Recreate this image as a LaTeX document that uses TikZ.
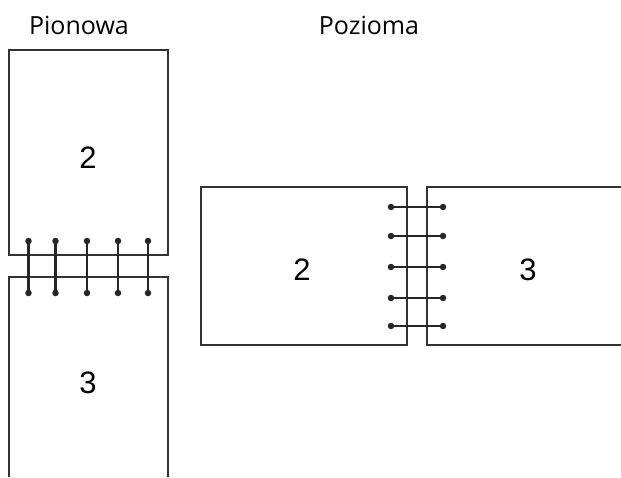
\documentclass[tikz,border=0pt]{standalone}
\usepackage{fontspec}
\setmainfont{Open Sans}
\newfontfamily\digitfont{Liberation Sans}
\begin{document}
\begin{tikzpicture}[x=1pt,y=-1pt,
  page/.style={draw=black!80,line width=1.9pt},
  stitch/.style={draw=black!85,line width=2.3pt},
  dot/.style={circle,fill=black!85,inner sep=0pt,minimum size=6.5pt},
  label/.style={font=\fontsize{25}{28}\selectfont,inner sep=0pt},
  num/.style={font=\digitfont\fontsize{31}{34}\selectfont,inner sep=0pt}]
\useasboundingbox (0,0) rectangle (621,477);
% labels
\node[label] (lp) at (79,25) {Pionowa};
\node[label] (ll) at (369,25) {Pozioma};
% portrait pages
\draw[page] (9,477) -- (9,277) -- (168,277) -- (168,477);
\draw[page] (9,50) rectangle (168,255);
\node[num] (p2) at (88,158) {2};
\node[num] (p3) at (88,383) {3};
% portrait stitches
\foreach \i/\x in {1/28.5,2/55.5,3/87,4/118,5/148}{
  \node[dot] (pt\i) at (\x,241) {};
  \node[dot] (pb\i) at (\x,293) {};
  \draw[stitch] (pt\i.center) -- (pb\i.center);
}
% landscape pages
\draw[page] (201,187) rectangle (407,345);
\draw[page] (621,187) -- (427,187) -- (427,345) -- (621,345);
\node[num] (l2) at (302,270) {2};
\node[num] (l3) at (528,270) {3};
% landscape stitches
\foreach \i/\y in {1/207,2/236,3/267,4/298,5/326}{
  \node[dot] (ll\i) at (391,\y) {};
  \node[dot] (lr\i) at (443,\y) {};
  \draw[stitch] (ll\i.center) -- (lr\i.center);
}
\end{tikzpicture}
\end{document}
